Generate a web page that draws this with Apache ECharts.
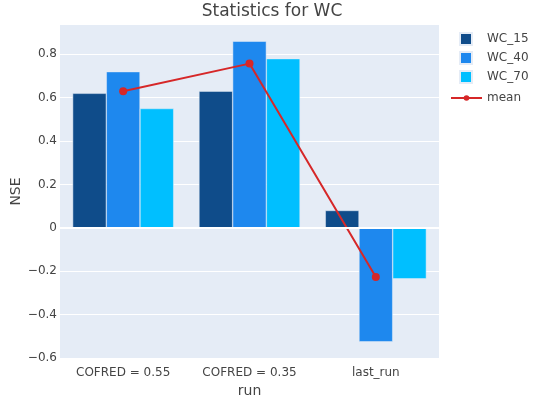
<!DOCTYPE html>
<html><head><meta charset="utf-8">
<script src="https://cdn.jsdelivr.net/npm/echarts@6/dist/echarts.min.js"></script>
<style>html,body{margin:0;padding:0;background:#fff}#c{width:544px;height:399px}</style>
</head><body><div id="c"></div>
<script>
const categories = ['COFRED = 0.55', 'COFRED = 0.35', 'last_run'];
const wc15 = [0.62, 0.63, 0.08];
const wc40 = [0.72, 0.86, -0.525];
const wc70 = [0.55, 0.78, -0.235];
const meanVals = [0.63, 0.757, -0.227];
const yTicks = [-0.6, -0.4, -0.2, 0, 0.2, 0.4, 0.6, 0.8];

const FONT = '"DejaVu Sans", Verdana, sans-serif';
const chart = echarts.init(document.getElementById('c'), null, {renderer: 'canvas'});
const barStyle = c => ({color: c, borderColor: '#E5ECF6', borderWidth: 0.5});
const gridColors = yTicks.map(() => '#ffffff').concat(['#E5ECF6']);
chart.setOption({
  backgroundColor: '#fff',
  animation: false,
  textStyle: {fontFamily: FONT},
  title: {text: 'Statistics for WC', left: 'center', top: -2,
    textStyle: {fontFamily: FONT, fontSize: 17, fontWeight: 'normal', color: '#444'}},
  grid: {left: 60, right: 105, top: 25, bottom: 41, backgroundColor: '#E5ECF6', show: true, borderWidth: 0,
    outerBoundsMode: 'none', containLabel: false},
  legend: [{
    data: ['WC_15', 'WC_40', 'WC_70'],
    orient: 'vertical', left: 459, top: 32, padding: 0, itemWidth: 12, itemHeight: 12, itemGap: 5,
    icon: 'rect',
    formatter: n => '{a|' + n + '}',
    textStyle: {fontFamily: FONT, fontSize: 12, color: '#444', lineHeight: 12,
      rich: {a: {fontFamily: FONT, fontSize: 12, color: '#444', lineHeight: 12, padding: [0, 0, 0, 10]}}}
  }, {
    data: ['mean'],
    orient: 'vertical', left: 450, top: 92, padding: 0, itemWidth: 31, itemHeight: 7,
    textStyle: {fontFamily: FONT, fontSize: 12, color: '#444', lineHeight: 12}
  }],
  xAxis: {
    type: 'category', data: categories,
    name: 'run', nameLocation: 'middle', nameGap: 26, nameMoveOverlap: false,
    nameTextStyle: {fontFamily: FONT, fontSize: 14, color: '#444'},
    axisLine: {show: false}, axisTick: {show: false},
    axisLabel: {fontFamily: FONT, fontSize: 12, color: '#444', margin: 9},
    splitLine: {show: false}
  },
  yAxis: {
    type: 'value', min: -0.6, max: 0.935, interval: 0.2,
    name: 'NSE', nameLocation: 'middle', nameGap: 37, nameMoveOverlap: false,
    nameTextStyle: {fontFamily: FONT, fontSize: 14, color: '#444'},
    axisLine: {show: false}, axisTick: {show: false},
    axisLabel: {fontFamily: FONT, fontSize: 12, color: '#444', margin: 3,
      formatter: v => {
        const r = Math.round(v * 10) / 10;
        if (Math.abs(v - r) > 1e-6) return '';
        if (Math.abs(r) < 1e-9) return '0';
        return r < 0 ? '\u2212' + Math.abs(r) : String(r);
      }},
    splitLine: {show: true, lineStyle: {color: gridColors, width: 1}}
  },
  series: [
    {type: 'line', data: [], z: 1, silent: true,
      markLine: {silent: true, symbol: 'none', label: {show: false},
        lineStyle: {color: '#ffffff', width: 2, type: 'solid'}, data: [{yAxis: 0}]}},
    {name: 'WC_15', type: 'bar', data: wc15, itemStyle: barStyle('#0F4C8A'), barGap: '0%', barCategoryGap: '20%', z: 2},
    {name: 'WC_40', type: 'bar', data: wc40, itemStyle: barStyle('#1E88EE'), barGap: '0%', barCategoryGap: '20%', z: 2},
    {name: 'WC_70', type: 'bar', data: wc70, itemStyle: barStyle('#00BFFF'), barGap: '0%', barCategoryGap: '20%', z: 2},
    {name: 'mean', type: 'line', data: meanVals, z: 3,
      lineStyle: {color: '#D62728', width: 2}, itemStyle: {color: '#D62728'},
      symbol: 'circle', symbolSize: 8}
  ]
});
</script></body></html>
